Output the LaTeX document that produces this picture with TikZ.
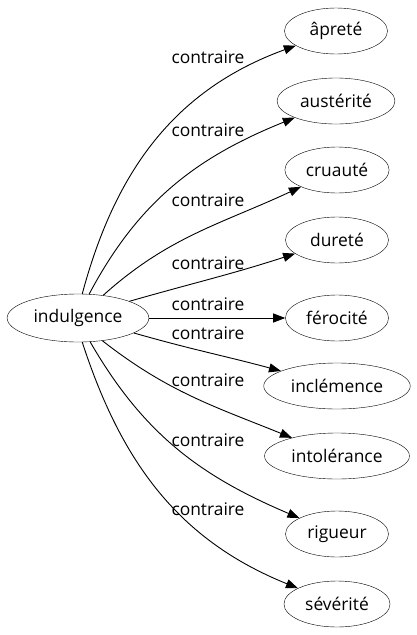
\documentclass[tikz,border=0pt]{standalone}
\usepackage{fontspec}
\setmainfont{Open Sans}
\usepackage{tikz}
\usetikzlibrary{
	arrows.meta,
	shapes.geometric,
	positioning
}

\tikzset{
	word/.style={draw, ellipse, minimum width=103pt, minimum height=46pt, inner xsep=5.7pt, inner ysep=3pt, font=\fontsize{17.4}{20}\selectfont},
	rel/.style={font=\fontsize{17.4}{20}\selectfont, inner sep=0pt},
	link/.style={-{Triangle[length=12pt, width=9pt]}, line width=0.9pt}
}

\begin{document}
\begin{tikzpicture}[x=1pt, y=-1pt]
		\useasboundingbox (0,0) rectangle (416,635);
		
		\node[word, minimum height=48pt] (ind) at (78,318) {indulgence};
		
		\node[word] (apr) at (336,31) {âpreté};
		\node[word] (aus) at (336,101) {austérité};
		\node[word] (cru) at (337,170) {cruauté};
		\node[word] (dur) at (337,240) {dureté};
		\node[word] (fer) at (337,318) {férocité};
		\node[word] (inc) at (337,386) {inclémence};
		\node[word] (int) at (337,456) {intolérance};
		\node[word] (rig) at (337,534) {rigueur};
		\node[word] (sev) at (337,604) {sévérité};
		
		% edges, upper half
		\draw[link] (ind.80) to[out=75, in=200] (apr);
		\draw[link] (ind.65) to[out=62, in=202] (aus);
		\draw[link] (ind.42) to[out=42, in=205] (cru);
		\draw[link] (ind.18) to[out=16, in=198] (dur);
		\draw[link] (ind) -- (fer);
		% edges, lower half
		\draw[link] (ind.-15) to[out=-16, in=165] (inc);
		\draw[link] (ind.-43) to[out=-38, in=158] (int);
		\draw[link] (ind.-63) to[out=-60, in=157] (rig);
		\draw[link] (ind.-80) to[out=-72, in=158] (sev);
		
		\node[rel] (l1) at (208,57) {contraire};
		\node[rel] (l2) at (208,130) {contraire};
		\node[rel] (l3) at (208,200) {contraire};
		\node[rel] (l4) at (208,263) {contraire};
		\node[rel] (l5) at (208,304) {contraire};
		\node[rel] (l6) at (208,333) {contraire};
		\node[rel] (l7) at (208,380) {contraire};
		\node[rel] (l8) at (208,440) {contraire};
		\node[rel] (l9) at (208,509) {contraire};
	\end{tikzpicture}
\end{document}
